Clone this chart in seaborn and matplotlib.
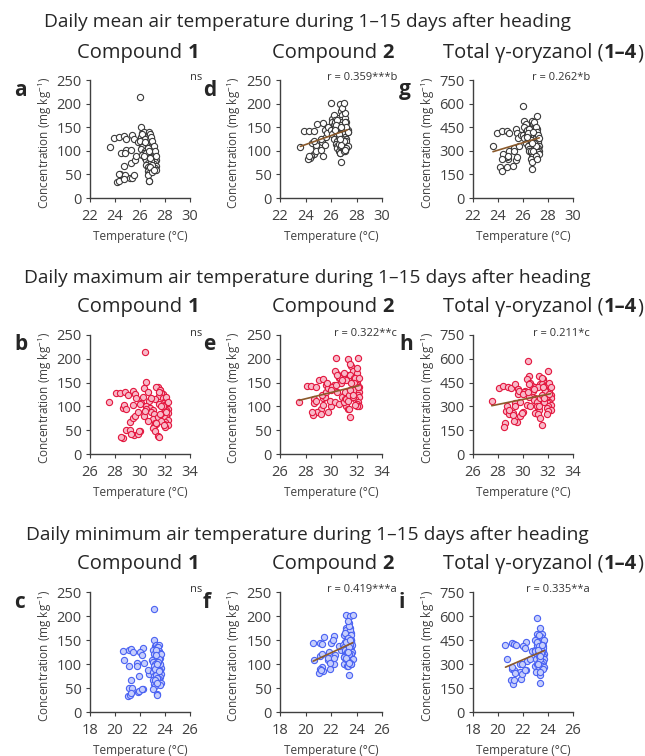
import matplotlib
matplotlib.use("Agg")
import pandas as pd
import matplotlib.pyplot as plt
import seaborn as sns

# per-sample values (same samples in every panel)
t_mean = [23.6, 23.9, 24.3, 24.7, 24.9, 25.4, 25.5, 24.5, 24.85, 24.8, 25.3, 24.7, 24.4,
          24.35, 24.8, 24.2, 24.3, 24.7, 25.2, 25.4, 25.5, 25.25, 25.6, 25.7, 25.8,
          26.0, 26.1, 26.2, 26.3, 26.1, 26.2, 26.4, 26.0, 26.3, 26.2, 26.1, 26.4, 26.3,
          26.2, 26.5, 26.4, 26.5, 26.6, 26.5, 26.6, 26.7, 26.6, 26.7, 26.6, 26.7, 26.75,
          26.7, 26.8, 26.9, 26.8, 26.9, 26.8, 27.0, 26.9, 27.0, 27.1, 27.0, 27.1, 27.2,
          27.1, 27.2, 27.0, 27.3, 27.2, 27.1, 27.3, 27.2, 27.3, 26.9, 27.0, 27.1, 27.2,
          27.3, 26.9, 27.0, 26.8, 26.5, 26.4, 26.6, 26.3, 26.7, 27.0, 26.8, 27.1]
t_max = [27.5, 28.1, 28.4, 28.8, 29.05, 29.4, 29.6, 28.65, 28.7, 28.85, 29.4, 29.2, 28.9,
         29.2, 30.0, 28.6, 28.5, 29.5, 29.3, 29.8, 29.9, 29.4, 29.6, 29.8, 29.7,
         30.4, 30.45, 30.3, 31.4, 30.6, 31.6, 31.8, 30.2, 30.7, 30.1, 30.0, 30.5, 30.8,
         31.0, 30.9, 31.1, 30.3, 31.0, 30.6, 31.2, 31.3, 31.1, 31.0, 31.2, 31.4, 31.5,
         31.3, 31.6, 31.7, 31.5, 31.8, 31.2, 32.0, 31.9, 32.1, 32.0, 31.8, 32.2, 32.1,
         32.0, 32.2, 31.9, 32.1, 32.0, 32.2, 32.0, 31.9, 32.2, 31.5, 32.1, 32.2, 31.8,
         32.1, 31.4, 31.7, 31.3, 30.5, 30.9, 31.5, 30.4, 31.7, 32.0, 31.6, 31.9]
t_min = [20.7, 20.6, 21.1, 21.3, 21.45, 22.25, 22.0, 21.1, 21.75, 21.75, 22.3, 21.3, 21.15,
         21.4, 22.25, 21.05, 21.2, 21.3, 21.85, 21.9, 22.2, 21.95, 22.75, 22.6, 22.15,
         23.15, 23.15, 23.2, 23.3, 23.0, 23.4, 23.3, 23.1, 23.25, 22.95, 23.0, 23.2, 23.35,
         23.1, 23.2, 23.05, 23.3, 23.15, 23.4, 23.0, 23.25, 23.1, 23.2, 23.05, 23.35, 23.4,
         23.5, 23.45, 23.5, 23.6, 23.3, 23.4, 23.6, 23.55, 23.45, 23.5, 23.6, 23.55, 23.65,
         23.4, 23.6, 23.5, 23.7, 23.45, 23.6, 23.55, 23.5, 23.65, 23.3, 23.7, 23.55, 23.6,
         23.5, 23.25, 23.4, 23.2, 23.1, 23.3, 23.45, 23.2, 23.35, 23.6, 23.5, 23.4]
comp1 = [109, 128, 129, 131, 125, 133, 126, 96, 102, 95, 102, 67, 51,
         50, 48, 33, 36, 40, 42, 43, 48, 75, 80, 88, 118,
         214, 151, 138, 140, 130, 135, 126, 120, 112, 108, 104, 100, 96,
         92, 88, 84, 80, 74, 70, 66, 62, 58, 54, 48, 37, 36,
         140, 135, 128, 122, 118, 115, 112, 108, 105, 102, 98, 95, 92,
         90, 86, 82, 80, 76, 72, 68, 64, 60, 130, 120, 110, 100,
         88, 78, 70, 66, 95, 118, 105, 90, 100, 56, 85, 60]
comp2 = [109, 143, 143, 141, 156, 158, 144, 116, 108, 112, 118, 94, 89,
         85, 100, 82, 88, 120, 124, 89, 112, 102, 130, 138, 150,
         202, 168, 175, 165, 160, 155, 150, 145, 160, 140, 135, 130, 150,
         125, 120, 115, 110, 170, 105, 100, 95, 130, 110, 115, 95, 77,
         199, 185, 175, 165, 160, 155, 150, 145, 140, 170, 135, 130, 125,
         180, 120, 115, 110, 105, 100, 145, 160, 140, 190, 202, 160, 150,
         140, 125, 120, 112, 165, 155, 135, 145, 125, 100, 150, 102]
total = [332, 416, 429, 423, 416, 440, 410, 270, 300, 250, 320, 260, 280,
         245, 265, 197, 173, 200, 205, 240, 260, 300, 380, 330, 400,
         585, 490, 470, 440, 450, 420, 410, 400, 430, 390, 380, 360, 400,
         350, 340, 330, 310, 420, 300, 290, 280, 300, 260, 250, 230, 184,
         490, 470, 450, 440, 430, 420, 410, 400, 390, 440, 380, 370, 360,
         522, 350, 340, 330, 320, 310, 300, 290, 280, 480, 450, 420, 400,
         380, 350, 330, 300, 440, 410, 370, 390, 350, 270, 420, 250]

row_titles = ["Daily mean air temperature during 1–15 days after heading",
              "Daily maximum air temperature during 1–15 days after heading",
              "Daily minimum air temperature during 1–15 days after heading"]
col_titles = [("Compound ", "1", ""), ("Compound ", "2", ""),
              ("Total γ-oryzanol (", "1–4", ")")]
letters = [["a", "d", "g"], ["b", "e", "h"], ["c", "f", "i"]]
stats = [["ns", "r = 0.359***b", "r = 0.262*b"],
         ["ns", "r = 0.322**c", "r = 0.211*c"],
         ["ns", "r = 0.419***a", "r = 0.335**a"]]
x_ticks = [[22, 24, 26, 28, 30], [26, 28, 30, 32, 34], [18, 20, 22, 24, 26]]
y_ticks = [[0, 50, 100, 150, 200, 250], [0, 50, 100, 150, 200, 250],
           [0, 150, 300, 450, 600, 750]]

df = pd.DataFrame({"mean": t_mean, "max": t_max, "min": t_min,
                   "c1": comp1, "c2": comp2, "tot": total})
x_cols = ["mean", "max", "min"]
y_cols = ["c1", "c2", "tot"]

sns.set_theme(style="white")
plt.rcParams["font.family"] = ["Open Sans", "DejaVu Sans"]
plt.rcParams["mathtext.fontset"] = "custom"
plt.rcParams["mathtext.rm"] = "Open Sans"
plt.rcParams["mathtext.default"] = "regular"

edge_cols = ["#3a3a3a", "#e3173f", "#4a62f2"]
face_cols = ["#ffffff", "#f8b9c8", "#c6cefc"]
line_col = "#8b5a2b"
dark = "#404040"

W, H = 645, 756
fig = plt.figure(figsize=(W / 100, H / 100), dpi=100)
renderer = fig.canvas.get_renderer()

tops = [80, 335, 592]
bottoms = [198, 454, 712]
lefts = [90, 280, 473]
rights = [190, 382, 573]
title_y = [22, 278, 535]
coltitle_y = [53, 307, 564]
coltitle_x = [138, 333, 543]
letter_x = [14, 203, 399]
stat_x = [190, 397, 590]


def title_parts(xc, yc, parts):
    # draw plain / bold / plain pieces side by side, centred on xc
    kws = [dict(), dict(fontweight="bold"), dict()]
    texts = [fig.text(0, 1 - yc / H, p, ha="left", va="center", fontsize=14.5, **k)
             for p, k in zip(parts, kws)]
    widths = [t.get_window_extent(renderer).width for t in texts]
    x = xc - sum(widths) / 2
    for t, w in zip(texts, widths):
        t.set_x(x / W)
        x += w


for r in range(3):
    fig.text(307 / W, 1 - title_y[r] / H, row_titles[r], ha="center", va="center",
             fontsize=13.8)
    for c in range(3):
        title_parts(coltitle_x[c], coltitle_y[r], col_titles[c])
        ax = fig.add_axes([lefts[c] / W, 1 - bottoms[r] / H,
                           (rights[c] - lefts[c]) / W, (bottoms[r] - tops[r]) / H])
        sns.scatterplot(data=df, x=x_cols[r], y=y_cols[c], ax=ax, s=20,
                        color=face_cols[r], edgecolor=edge_cols[r], linewidth=0.8,
                        zorder=3)
        if c > 0:
            sns.regplot(data=df, x=x_cols[r], y=y_cols[c], ax=ax, scatter=False,
                        ci=None, truncate=True,
                        line_kws=dict(color=line_col, lw=1.2, zorder=4))
        xt = x_ticks[r]
        yt = y_ticks[c]
        ax.set_xlim(xt[0], xt[-1])
        ax.set_ylim(0, yt[-1])
        ax.set_xticks(xt)
        ax.set_yticks(yt)
        for s in ["top", "right"]:
            ax.spines[s].set_visible(False)
        for s in ["left", "bottom"]:
            ax.spines[s].set_color(dark)
            ax.spines[s].set_linewidth(1)
        ax.tick_params(axis="x", direction="out", length=3, width=0.8, pad=5,
                       labelsize=10.5, colors=dark, bottom=True)
        ax.tick_params(axis="y", direction="out", length=3, width=0.8, pad=3,
                       labelsize=10.5, colors=dark, left=True)
        ax.set_xlabel("Temperature (°C)", fontsize=8.5, color=dark)
        ax.set_ylabel("Concentration (mg kg$^{-1}$)", fontsize=8.5, color=dark)
        ax.xaxis.set_label_coords(0.5, -0.27)
        ax.yaxis.set_label_coords(-0.36, 0.47)
        ax.patch.set_alpha(0)

        fig.text(letter_x[c] / W, 1 - (tops[r] + 10) / H, letters[r][c],
                 ha="left", va="center", fontsize=15, fontweight="bold")
        ha = "left" if c == 0 else "right"
        fig.text(stat_x[c] / W, 1 - (tops[r] - 2) / H, stats[r][c], ha=ha,
                 va="center", fontsize=8, color="#333333")

fig.savefig("out.png", dpi=100, facecolor="white")
